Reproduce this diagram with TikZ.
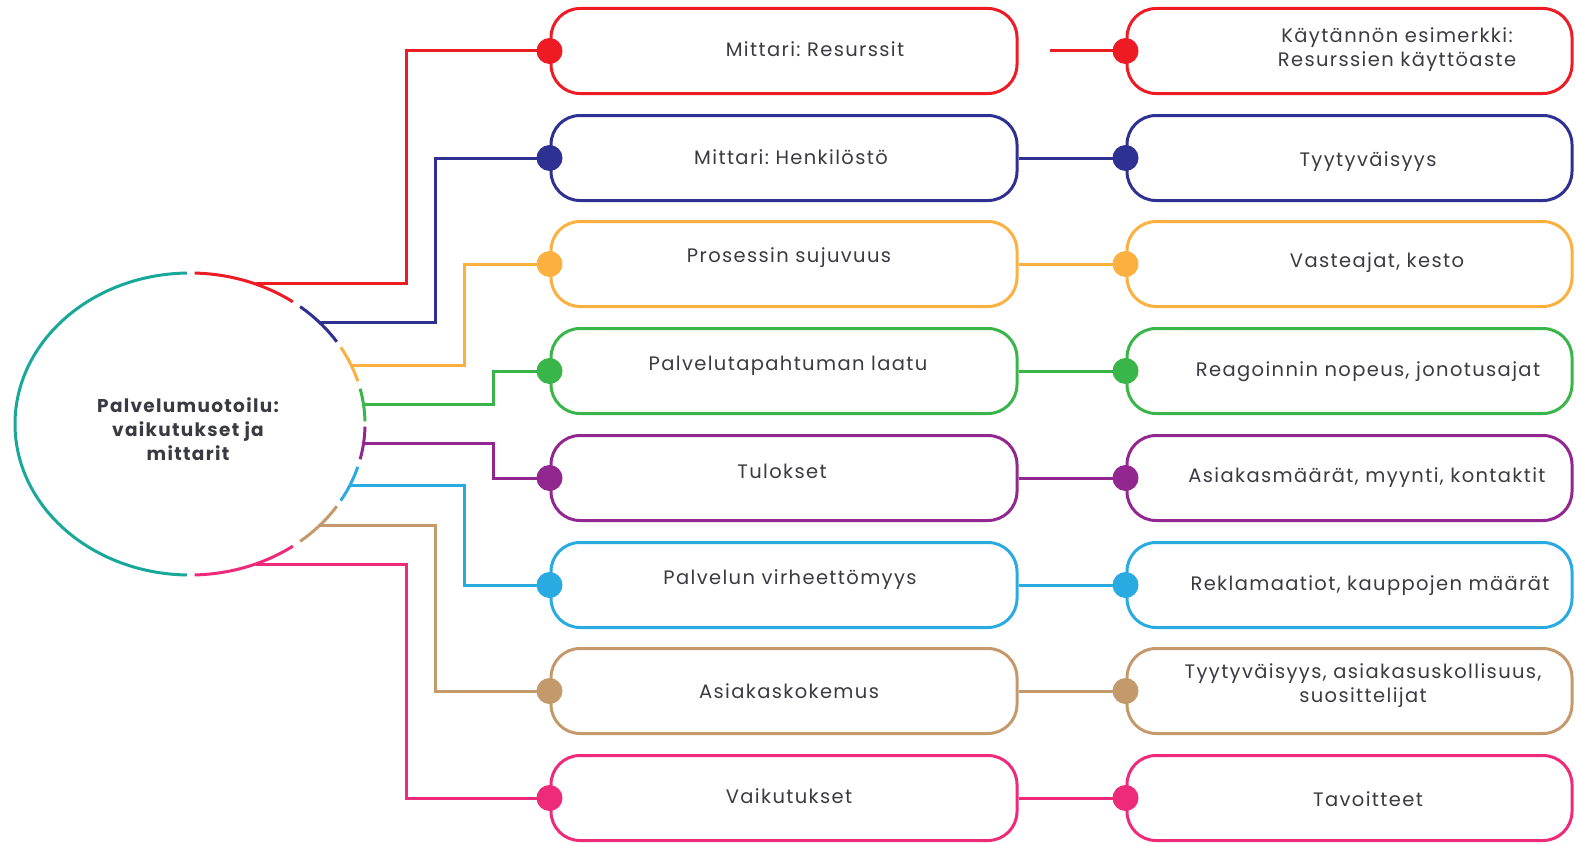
\documentclass[tikz,border=0pt]{standalone}
\usepackage{fontspec}
\setmainfont{Poppins}[LetterSpace=7]
\frenchspacing
\usetikzlibrary{shapes.geometric}

\definecolor{cRed}{HTML}{ED1C24}
\definecolor{cNavy}{HTML}{2E3192}
\definecolor{cOrange}{HTML}{FBB040}
\definecolor{cGreen}{HTML}{39B54A}
\definecolor{cPurple}{HTML}{92278F}
\definecolor{cBlue}{HTML}{29ABE2}
\definecolor{cTan}{HTML}{C49A6C}
\definecolor{cPink}{HTML}{EE2A7B}
\definecolor{cTeal}{HTML}{17A899}
\definecolor{txt}{HTML}{3A3A42}

\tikzset{
  wire/.style={line width=3pt},
  metricbox/.style={draw, line width=3pt, rounded corners=29pt, minimum width=466pt, minimum height=85pt, inner sep=0pt},
  examplebox/.style={draw, line width=3pt, rounded corners=29pt, minimum width=445pt, minimum height=85pt, inner sep=0pt},
  dotnode/.style={circle, minimum size=26pt, inner sep=0pt},
  label/.style={text=txt, align=center, inner sep=0pt, font=\fontsize{19.5}{24}\selectfont},
  hubtext/.style={text=txt, align=center, inner sep=0pt, font=\bfseries\fontsize{18.5}{24}\selectfont},
}

\begin{document}
\begin{tikzpicture}[x=1pt, y=-1pt]
\useasboundingbox (0,0) rectangle (1576,843);

% central ellipse and its title
\node[ellipse, minimum width=350pt, minimum height=302pt, inner sep=0pt] (hub) at (190,424) {};
\node[hubtext] (hubt) at (188,429) {Palvelumuotoilu:\\vaikutukset ja\\mittarit};

% left half of the ring
\draw[wire, cTeal] (hub.center) ++(-91:175 and 151) arc[start angle=-91, end angle=-269, x radius=175, y radius=151];

% one row per metric: colour, arc span, attachment angle, bend x, row y, gap before the example box
\foreach \i/\c/\aa/\ab/\t/\vx/\y/\gap in {
  1/cRed/-88.5/-54/-68/406/51/31,
  2/cNavy/-51/-33/-42/435/158/0,
  3/cOrange/-30.5/-16.5/-23/464/264/0,
  4/cGreen/-13.5/-1/-7.6/493/371/0,
  5/cPurple/1/13.5/7.6/493/478/0,
  6/cBlue/16.5/30.5/24.2/464/585/0,
  7/cTan/33/51/42/435/691/0,
  8/cPink/54/88.5/68/406/798/0}{
  \draw[wire, \c] (hub.center) ++(\aa:175 and 151) arc[start angle=\aa, end angle=\ab, x radius=175, y radius=151];
  \node[metricbox, draw=\c] (L\i) at (784,\y) {};
  \node[examplebox, draw=\c] (R\i) at (1349.5,\y) {};
  \path (hub.center) ++(\t:175 and 151) coordinate (s\i);
  \coordinate (k\i) at (\vx, 0);
  \draw[wire, \c] (s\i) -- (s\i -| k\i) |- (L\i.west);
  \draw[wire, \c] ([xshift=\gap pt]L\i.east) -- (R\i.west);
  \node[dotnode, fill=\c] (dl\i) at (L\i.west) {};
  \node[dotnode, fill=\c] (dr\i) at (R\i.west) {};
}

% metric labels
\node[label] (m1) at (815,49) {Mittari: Resurssit};
\node[label] (m2) at (791,157) {Mittari: Henkilöstö};
\node[label] (m3) at (789,258) {Prosessin sujuvuus};
\node[label] (m4) at (788,366) {Palvelutapahtuman laatu};
\node[label] (m5) at (782,471) {Tulokset};
\node[label] (m6) at (790,580) {Palvelun virheettömyys};
\node[label] (m7) at (789,691) {Asiakaskokemus};
\node[label] (m8) at (789,796) {Vaikutukset};

% example labels
\node[label] (e1) at (1397,50) {Käytännön esimerkki:\\Resurssien käyttöaste};
\node[label] (e2) at (1368,162) {Tyytyväisyys};
\node[label] (e3) at (1377,263) {Vasteajat, kesto};
\node[label] (e4) at (1368,372) {Reagoinnin nopeus, jonotusajat};
\node[label] (e5) at (1367,478) {Asiakasmäärät, myynti, kontaktit};
\node[label] (e6) at (1370,586) {Reklamaatiot, kauppojen määrät};
\node[label] (e7) at (1363,686) {Tyytyväisyys, asiakasuskollisuus,\\suosittelijat};
\node[label] (e8) at (1368,799) {Tavoitteet};
\end{tikzpicture}
\end{document}
